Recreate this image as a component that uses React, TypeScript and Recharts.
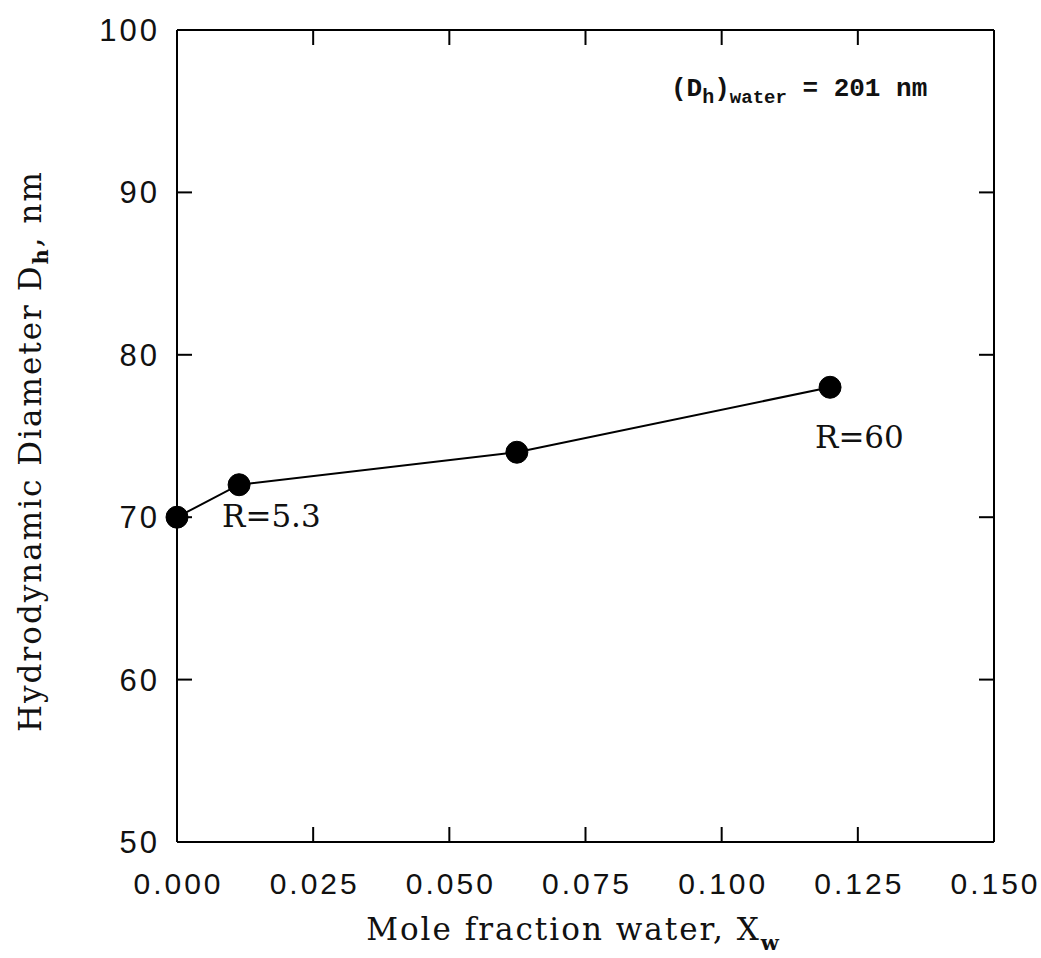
import React from "react";
import { Label, LabelList, Line, LineChart, XAxis, YAxis } from "recharts";

// values
const moleFraction = [0.0, 0.0114, 0.0624, 0.1199];
const diameterNm = [70, 72, 74, 78];
const pointLabels = ["", "R=5.3", "", "R=60"];
const xTicks = [0, 0.025, 0.05, 0.075, 0.1, 0.125, 0.15];
const yTicks = [50, 60, 70, 80, 90, 100];

const data = moleFraction.map((x, i) => ({ x, d: diameterNm[i], label: pointLabels[i] }));

const TICK_LEN = 15;
const SANS = "'Liberation Sans', sans-serif";
const SERIF = "'DejaVu Serif', serif";
const MONO = "'Liberation Mono', monospace";

// label offsets relative to the point they describe
const labelOffset: Record<number, { dx: number; dy: number }> = {
  1: { dx: -17, dy: 31 },
  3: { dx: -15, dy: 50 },
};

function BottomTick(props: any) {
  const { x, y, payload } = props;
  return (
    <g>
      <line x1={x} y1={y} x2={x} y2={y - TICK_LEN} stroke="#000" strokeWidth={2} />
      <text x={x + 1.5} y={y + 52} textAnchor="middle" fontFamily={SANS} fontSize={30} letterSpacing={3} fill="#111">
        {payload.value.toFixed(3)}
      </text>
    </g>
  );
}

function TopTick(props: any) {
  const { x, y } = props;
  return <line x1={x} y1={y} x2={x} y2={y + TICK_LEN} stroke="#000" strokeWidth={2} />;
}

function LeftTick(props: any) {
  const { x, y, payload } = props;
  return (
    <g>
      <line x1={x} y1={y} x2={x + TICK_LEN} y2={y} stroke="#000" strokeWidth={2} />
      <text x={x - 17} y={y + 11} textAnchor="end" fontFamily={SANS} fontSize={31} letterSpacing={3} fill="#111">
        {payload.value}
      </text>
    </g>
  );
}

function RightTick(props: any) {
  const { x, y } = props;
  return <line x1={x} y1={y} x2={x - TICK_LEN} y2={y} stroke="#000" strokeWidth={2} />;
}

function PointLabel(props: any) {
  const { x, y, value, index } = props;
  if (!value) return null;
  const off = labelOffset[index] ?? { dx: 0, dy: 30 };
  return (
    <text x={x + off.dx} y={y + off.dy + 11} fontFamily={SERIF} fontSize={31} fill="#111">
      {value}
    </text>
  );
}

export default function App() {
  return (
    <div style={{ position: "absolute", left: 0, top: 0, background: "#fff" }}>
      <LineChart
        width={1041}
        height={958}
        data={data}
        margin={{ top: 0, right: 0, bottom: 0, left: 0 }}
      >
        <XAxis
          dataKey="x"
          type="number"
          domain={[0, 0.15]}
          ticks={xTicks}
          height={116}
          tickSize={0}
          tickMargin={0}
          tickLine={false}
          tick={BottomTick}
          axisLine={{ stroke: "#000", strokeWidth: 2 }}
          interval={0}
        >
          <Label
            content={(p: any) => {
              const vb = p.viewBox;
              const cx = vb.x + vb.width / 2 - 12;
              return (
                <text x={cx} y={vb.y + 98} textAnchor="middle" fontFamily={SERIF} fontSize={31} fill="#111" letterSpacing={2}>
                  Mole fraction water, X
                  <tspan fontSize={21} fontWeight="bold" dy={10}>w</tspan>
                </text>
              );
            }}
          />
        </XAxis>
        <XAxis
          xAxisId="top"
          orientation="top"
          dataKey="x"
          type="number"
          domain={[0, 0.15]}
          ticks={xTicks}
          height={30}
          tickSize={0}
          tickMargin={0}
          tickLine={false}
          tick={TopTick}
          axisLine={{ stroke: "#000", strokeWidth: 2 }}
          interval={0}
        />
        <YAxis
          dataKey="d"
          type="number"
          domain={[50, 100]}
          ticks={yTicks}
          width={177}
          tickSize={0}
          tickMargin={0}
          tickLine={false}
          tick={LeftTick}
          axisLine={{ stroke: "#000", strokeWidth: 2 }}
          interval={0}
        >
          <Label
            content={(p: any) => {
              const vb = p.viewBox;
              const cx = 30;
              const cy = vb.y + vb.height / 2 + 15;
              return (
                <text
                  x={cx}
                  y={cy}
                  transform={`rotate(-90 ${cx} ${cy})`}
                  textAnchor="middle"
                  dominantBaseline="central"
                  fontFamily={SERIF}
                  fontSize={31}
                  fill="#111"
                  letterSpacing={2}
                >
                  Hydrodynamic Diameter D
                  <tspan fontSize={21} fontWeight="bold" dy={10}>h</tspan>
                  <tspan dy={-10}>, nm</tspan>
                </text>
              );
            }}
          />
        </YAxis>
        <YAxis
          yAxisId="right"
          orientation="right"
          dataKey="d"
          type="number"
          domain={[50, 100]}
          ticks={yTicks}
          width={47}
          tickSize={0}
          tickMargin={0}
          tickLine={false}
          tick={RightTick}
          axisLine={{ stroke: "#000", strokeWidth: 2 }}
          interval={0}
        />
        <Line
          dataKey="d"
          stroke="#000"
          strokeWidth={2}
          dot={{ r: 11, fill: "#000", stroke: "#000", strokeWidth: 1 }}
          activeDot={false}
          isAnimationActive={false}
        >
          <LabelList dataKey="label" content={PointLabel} />
        </Line>
        <Line
          xAxisId="top"
          yAxisId="right"
          dataKey="d"
          stroke="none"
          dot={false}
          activeDot={false}
          legendType="none"
          isAnimationActive={false}
        />
      </LineChart>
      <svg width={1041} height={958} style={{ position: "absolute", left: 0, top: 0, pointerEvents: "none" }}>
        <text x={671} y={96} fontFamily={MONO} fontWeight="bold" fontSize={26} fill="#111">
          (D
          <tspan fontSize={20} dy={7}>h</tspan>
          <tspan dy={-7}>)</tspan>
          <tspan fontSize={19} dy={7}>water</tspan>
          <tspan dy={-7}> = 201 nm</tspan>
        </text>
      </svg>
    </div>
  );
}
